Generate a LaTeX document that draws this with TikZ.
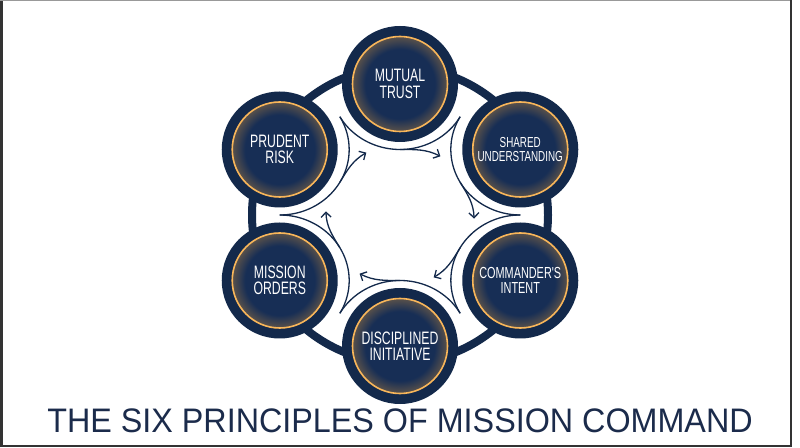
\documentclass[tikz,border=0pt]{standalone}
\usepackage{fontspec}
\setmainfont{Liberation Sans}
\newfontfamily\condfont[FakeStretch=0.68]{Liberation Sans}
\newfontfamily\titlefont[FakeStretch=0.95]{Liberation Sans}
\usetikzlibrary{arrows.meta}
\definecolor{cnavy}{HTML}{13294B}
\definecolor{cnavyin}{HTML}{172E55}
\definecolor{corange}{HTML}{F6A431}
\definecolor{ctitle}{HTML}{1B2B4B}
\pgfdeclareradialshading{glow}{\pgfpoint{0bp}{0bp}}{color(0bp)=(cnavyin); color(15bp)=(cnavyin); color(20.5bp)=(corange!30!cnavyin); color(23.5bp)=(corange!75!cnavyin); color(24.5bp)=(corange); color(25bp)=(corange); color(50bp)=(corange)}
\begin{document}
\begin{tikzpicture}[x=1pt,y=1pt,
  principle/.style={circle, minimum size=116pt, inner sep=0pt, fill=cnavy, text=white, align=center,
    font=\condfont\fontsize{18}{16.5}\selectfont,
    path picture={\shade[shading=glow] (path picture bounding box.center) circle (48);
                  \draw[corange!80!white, line width=1.6pt] (path picture bounding box.center) circle (47.5);}},
  flow/.style={draw=cnavy, line width=1.3pt},
  flowarrow/.style={flow, -{Straight Barb[length=5pt,width=10pt]}}]
\fill[white] (0,0) rectangle (800,447);
\useasboundingbox (0,0) rectangle (800,447);
% frame
\draw[black!80, line width=3pt] (1.5,0) -- (1.5,447);
\draw[black!40, line width=1.5pt] (0,446.25) -- (792,446.25);
\draw[black!80, line width=2pt] (791,0) -- (791,447);
\draw[black!80, line width=2pt] (0,1) -- (792,1);
% ring
\draw[cnavy, line width=8pt] (400,232) circle (148);
% inner arcs and arrows
\begin{scope}[shift={(400,232)}, xscale=1.06]
  \foreach \t in {90,30,-30,-90,-150,150}{
    \draw[flow] (\t:131) ++(\t+120:65.5) arc[start angle=\t+120, end angle=\t+240, radius=65.5];
    \draw[flowarrow] (\t:65.5) to[out=\t-90, in=\t+62] (\t-33:70);
  }
  \node[principle] (mt) at (90:131) {MUTUAL\\TRUST};
  \node[principle, font=\condfont\fontsize{14.5}{14.5}\selectfont] (su) at (30:131) {SHARED\\UNDERSTANDING};
  \node[principle, font=\condfont\fontsize{16}{15.5}\selectfont] (ci) at (-30:131) {COMMANDER'S\\INTENT};
  \node[principle] (di) at (-90:131) {DISCIPLINED\\INITIATIVE};
  \node[principle] (mo) at (-150:131) {MISSION\\ORDERS};
  \node[principle] (pr) at (150:131) {PRUDENT\\RISK};
\end{scope}
\node[font=\titlefont\fontsize{34}{34}\selectfont, text=ctitle, anchor=base, inner sep=0pt] (title) at (400,14.5) {THE SIX PRINCIPLES OF MISSION COMMAND};
\end{tikzpicture}
\end{document}
